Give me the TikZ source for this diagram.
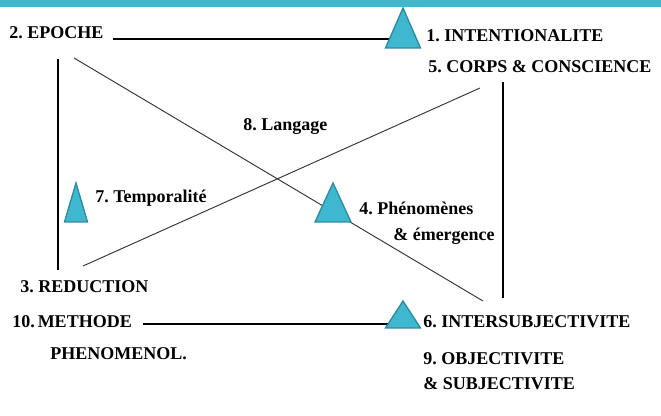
\documentclass[tikz,border=0pt]{standalone}
\usepackage{fontspec}
\setmainfont{Liberation Serif}
\frenchspacing
\definecolor{teal1}{HTML}{3FB7CF}
\definecolor{teal2}{HTML}{2B8B9F}
\tikzset{
  lbl/.style={anchor=base west, inner sep=0pt, font=\fontsize{13.5}{16}\selectfont\bfseries},
  bar/.style={line width=2.2pt},
  thin/.style={line width=0.7pt, black!80},
  tri/.style={fill=teal1, draw=teal2, line width=1pt, line join=miter}
}

\begin{document}
\begin{tikzpicture}[x=0.75pt, y=-0.75pt]
\useasboundingbox (0,0) rectangle (661,416);
% Labels
\node[lbl] (epoche)   at (9,39)    {2. EPOCHE};
\node[lbl] (intent)   at (426,42)  {1. INTENTIONALITE};
\node[lbl] (corps)    at (428,73)  {5. CORPS \& CONSCIENCE};
\node[lbl] (langage)  at (243,131) {8. Langage};
\node[lbl] (tempo)    at (95,203)  {7. Temporalité};
\node[lbl] (pheno)    at (359,215) {4. Phénomènes};
\node[lbl] (emerg)    at (393,241) {\& émergence};
\node[lbl] (reduc)    at (20,293)  {3. REDUCTION};
\node[lbl] (methode)  at (12,328)  {10.\,METHODE};
\node[lbl] (intersub) at (423,328) {6. INTERSUBJECTIVITE};
\node[lbl] (phenol)   at (50,360)  {PHENOMENOL.};
\node[lbl] (objec)    at (423,365) {9. OBJECTIVITE};
\node[lbl] (subjec)   at (423,390) {\& SUBJECTIVITE};
% Line ends
\coordinate (top1) at (113,39);  \coordinate (top2) at (395,39);
\coordinate (bot1) at (143,324); \coordinate (bot2) at (395,324);
\coordinate (lv1) at (58,59);    \coordinate (lv2) at (58,270);
\coordinate (rv1) at (503,82);   \coordinate (rv2) at (503,298);
\coordinate (da1) at (74,58);    \coordinate (da2) at (483,301);
\coordinate (db1) at (83,266);   \coordinate (db2) at (480,88);
% Lines
\draw[bar] (top1) -- (top2);
\draw[bar] (bot1) -- (bot2);
\draw[bar] (lv1) -- (lv2);
\draw[bar] (rv1) -- (rv2);
\draw[thin] (da1) -- (da2);
\draw[thin] (db1) -- (db2);
% Triangles
\foreach \ax/\ay/\by/\hw in {403/8/48/17.5, 333/183/222/18, 76/183/222/11.5, 403/301/328/17.5}
    \filldraw[tri] (\ax,\ay) -- (\ax-\hw,\by) -- (\ax+\hw,\by) -- cycle;
% Top band
\fill[teal1] (0,0) rectangle (661,7);
\end{tikzpicture}
\end{document}
